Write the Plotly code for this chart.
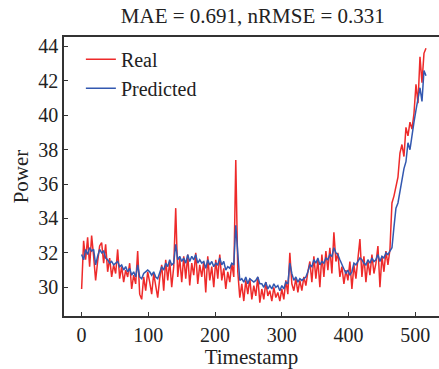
import plotly.graph_objects as go

timestamps = list(range(0, 517, 3))

real = [
    29.9, 32.7, 31.6, 32.9, 31.2, 33.0, 31.8, 30.4, 31.5, 32.4,
    32.6, 31.4, 32.5, 30.9, 31.7, 30.6, 31.3, 30.8, 32.2, 30.5,
    31.2, 30.3, 31.0, 30.6, 31.4, 29.9, 30.7, 30.2, 32.1, 29.6,
    29.3, 30.6, 29.8, 30.9, 30.3, 29.6, 30.8, 30.1, 29.4, 30.5,
    31.3, 29.8, 31.6, 30.4, 31.5, 30.0, 31.2, 34.6, 30.6, 31.7,
    30.3, 31.8, 30.5, 31.9, 30.1, 31.4, 30.7, 32.0, 30.2, 31.3,
    30.6, 31.5, 29.7, 31.8, 30.4, 31.2, 30.0, 31.6, 30.5, 31.9,
    30.4, 31.1, 29.9, 30.9, 30.3, 31.4, 30.6, 37.4, 30.9, 29.4,
    30.2, 29.2, 30.4, 29.6, 30.5, 29.3, 30.1, 29.5, 30.6, 29.1,
    29.9, 29.3, 30.3, 29.5, 29.8, 29.2, 30.0, 29.4, 29.7, 29.2,
    29.9, 29.3, 30.4, 29.6, 32.0, 30.2, 29.8, 30.5, 29.7, 30.4,
    29.8, 30.6, 30.1, 30.9, 31.5, 30.3, 31.8, 30.5, 31.6, 30.0,
    31.9, 30.6, 32.1, 31.0, 32.3, 30.8, 33.2, 31.5, 32.0, 30.6,
    31.2, 30.2, 31.0, 30.4, 31.5, 29.9, 31.3, 30.5, 31.7, 32.8,
    30.6, 31.8, 30.3, 31.5, 30.7, 31.9, 30.8, 31.4, 32.4, 30.0,
    31.8, 30.9, 32.1, 31.3, 32.2, 34.9, 35.3, 35.9, 36.4, 37.8,
    38.3, 37.6, 39.3, 38.8, 39.6, 39.2, 40.1, 41.8, 40.7, 43.4,
    41.9, 43.6, 43.9,
]

predicted = [
    31.9, 31.6, 32.2, 31.9, 32.3, 32.1, 32.2, 31.3, 31.8, 32.2,
    32.0, 32.1, 31.7, 31.6, 31.4, 31.5, 31.3, 31.4, 31.5, 31.2,
    31.3, 31.0, 31.2, 30.9, 31.1, 30.7, 30.9, 30.6, 31.3, 30.6,
    30.5, 30.8, 30.9, 31.0, 30.9, 30.7, 30.9, 30.6, 30.5, 30.8,
    31.2, 31.0, 31.4, 31.2, 31.6, 31.3, 31.4, 32.5, 31.6, 31.8,
    31.5, 31.7, 31.4, 31.9, 31.5, 31.8, 31.6, 31.9, 31.4, 31.6,
    31.4, 31.5, 31.1, 31.6, 31.3, 31.5, 31.2, 31.4, 31.3, 31.7,
    31.3, 31.5, 31.0, 31.2, 31.1, 31.4, 31.3, 33.6, 32.2, 30.4,
    30.5, 30.3, 30.6, 30.2, 30.5, 30.4, 30.3, 30.4, 30.6, 30.2,
    30.2, 30.0, 30.3, 29.9, 30.1, 29.9, 30.2, 30.0, 30.1, 29.8,
    30.1, 29.9, 30.3, 30.2, 31.4, 30.8, 30.4, 30.6, 30.3, 30.5,
    30.4, 30.5, 30.6, 30.9, 31.3, 31.2, 31.6, 31.4, 31.7, 31.3,
    31.5, 31.4, 31.7, 31.6, 31.9, 31.8, 32.3, 32.0, 31.9, 31.6,
    31.3, 31.0, 30.8, 31.0, 30.7, 30.9, 31.4, 31.3, 31.5, 31.7,
    31.6, 31.4, 31.3, 31.6, 31.4, 31.7, 31.5, 31.6, 31.9, 31.5,
    31.8, 31.7, 32.0, 31.9, 32.1, 32.3, 33.5, 34.6, 34.9, 35.6,
    36.1, 36.9, 37.3, 38.4, 38.0, 38.9, 39.6, 40.3, 41.0, 41.6,
    40.8, 42.6, 42.3,
]

x_ticks = [0, 100, 200, 300, 400, 500]
y_ticks = [30, 32, 34, 36, 38, 40, 42, 44]

FONT = "Liberation Serif, Times New Roman, serif"

fig = go.Figure()
fig.add_trace(go.Scatter(x=timestamps, y=real, mode="lines", name="Real",
                         line=dict(color="#ee2a2a", width=1.5)))
fig.add_trace(go.Scatter(x=timestamps, y=predicted, mode="lines", name="Predicted",
                         line=dict(color="#3358b0", width=1.5)))

fig.update_layout(
    width=439, height=369,
    margin=dict(l=64, r=0, t=37, b=53),
    paper_bgcolor="white", plot_bgcolor="white",
    font=dict(family=FONT, size=20, color="#222"),
    title=dict(text="MAE = 0.691, nRMSE = 0.331", x=0.576, xanchor="center",
               y=0.957, yanchor="middle", font=dict(size=21, family=FONT, color="#222")),
    legend=dict(x=0.045, y=0.99, xanchor="left", yanchor="top",
                bgcolor="rgba(0,0,0,0)", font=dict(size=20, family=FONT, color="#222"),
                tracegroupgap=0, itemwidth=30),
    showlegend=True,
)
fig.update_xaxes(range=[-26.4, 535.5], tickvals=x_ticks, ticks="inside", ticklen=4,
                 tickwidth=1.2, tickcolor="#333", showline=True, linecolor="#333",
                 linewidth=1.5, mirror=True, showgrid=False, zeroline=False,
                 title=dict(text="Timestamp", font=dict(size=21, family=FONT), standoff=4),
                 tickfont=dict(size=20, family=FONT))
fig.update_yaxes(range=[28.33, 44.55], tickvals=y_ticks, ticks="inside", ticklen=4,
                 tickwidth=1.2, tickcolor="#333", showline=True, linecolor="#333",
                 linewidth=1.5, showgrid=False, zeroline=False,
                 title=dict(text="Power", font=dict(size=21, family=FONT), standoff=4),
                 tickfont=dict(size=20, family=FONT))

fig.write_html("out.html",
               config={"displayModeBar": False},
               post_script="document.body.style.margin='0';document.body.style.overflow='hidden';")
